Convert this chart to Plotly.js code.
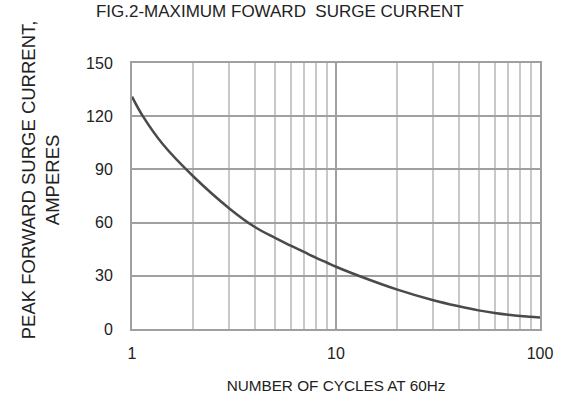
<!DOCTYPE html>
<html><head><meta charset="utf-8">
<script src="https://cdn.plot.ly/plotly-3.0.1.min.js"></script>
<style>html,body{margin:0;padding:0;background:#fff}#chart{width:563px;height:408px}</style>
</head><body><div id="chart"></div>
<script>
const cycles = [1, 1.13, 1.42, 2, 3, 4, 5, 6, 7, 8, 9, 10, 13, 20, 30, 40, 50, 60, 70, 80, 90, 100];
const surgeCurrent = [131, 120, 104, 86, 68, 57.5, 51.5, 47, 43.3, 40.1, 37.5, 35.1, 29.9, 22.2, 16.2, 12.8, 10.5, 9.0, 8.0, 7.3, 6.9, 6.5];
const xTickVals = [1, 10, 100];
const xTickText = ['1', '10', '100'];
const xMinorVals = [2,3,4,5,6,7,8,9,20,30,40,50,60,70,80,90];
const yTickVals = [0, 30, 60, 90, 120, 150];
const yTitle = 'PEAK FORWARD SURGE CURRENT,<br>AMPERES';

const fam = 'Liberation Sans, Arial, sans-serif';
const txt = '#222';

Plotly.newPlot('chart', [{
  x: cycles, y: surgeCurrent, type: 'scatter', mode: 'lines',
  line: {color: '#4a4a4a', width: 2.5, shape: 'spline', smoothing: 1},
  hoverinfo: 'skip'
}], {
  width: 563, height: 408,
  margin: {l: 132, r: 23, t: 63, b: 79},
  paper_bgcolor: '#fff', plot_bgcolor: '#fff',
  showlegend: false,
  font: {family: fam, color: txt, size: 16},
  title: {text: 'FIG.2-MAXIMUM FOWARD\u00a0\u00a0SURGE CURRENT', x: 0.497, xanchor: 'center', y: 0.972, yanchor: 'middle', font: {family: fam, size: 17, color: txt}},
  xaxis: {
    type: 'log', range: [0, 2],
    tickvals: xTickVals, ticktext: xTickText, ticks: '',
    ticklabelstandoff: 9,
    tickfont: {family: fam, size: 16, color: txt},
    showgrid: true, gridcolor: '#a0a0a0', gridwidth: 2,
    minor: {tickvals: xMinorVals, showgrid: true, gridcolor: '#c8c8cc', gridwidth: 2, ticks: ''},
    showline: true, linecolor: '#a0a0a0', linewidth: 2, mirror: true,
    zeroline: false,
    title: {text: 'NUMBER OF CYCLES AT 60Hz', standoff: 19, font: {family: fam, size: 15.3, color: txt}}
  },
  yaxis: {
    range: [0, 150], tickvals: yTickVals, ticks: '',
    ticklabelstandoff: 14,
    tickfont: {family: fam, size: 16, color: txt},
    showgrid: true, gridcolor: '#a0a0a0', gridwidth: 2,
    showline: true, linecolor: '#a0a0a0', linewidth: 2, mirror: true,
    zeroline: false
  },
  annotations: [{
    text: yTitle, textangle: -90, showarrow: false,
    xref: 'paper', yref: 'paper', x: -0.225, y: 0.56, xanchor: 'center', yanchor: 'middle',
    font: {family: fam, size: 18.5, color: txt}
  }]
}, {displayModeBar: false, staticPlot: true});
</script>
</body></html>
